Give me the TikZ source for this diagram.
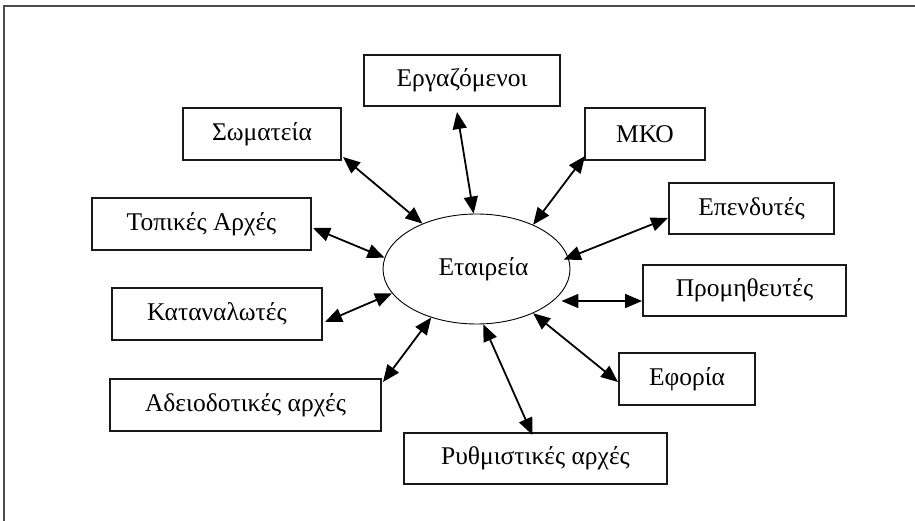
\documentclass[tikz,border=0pt]{standalone}
\usepackage{fontspec}
\setmainfont{Liberation Serif}
\usetikzlibrary{arrows.meta,shapes.geometric,calc}
\tikzset{
  box/.style={draw=black!90, line width=2pt, rectangle, inner sep=0pt, font=\fontsize{25.5}{28}\selectfont},
  ell/.style={draw, ellipse, line width=0.9pt, inner sep=0pt, minimum width=187pt, minimum height=110pt, font=\fontsize{25.5}{28}\selectfont},
  arr/.style={line width=1.8pt, {Triangle[length=17pt,width=14pt]}-{Triangle[length=17pt,width=14pt]}},
  frame/.style={line width=1.5pt, draw=black!70}
}
\begin{document}
\begin{tikzpicture}[x=1pt,y=-1pt]
\useasboundingbox (0,0) rectangle (915,521);
\coordinate (ftr) at (930,6);
\coordinate (ftl) at (4,6);
\coordinate (fbl) at (4,530);
\draw[frame] (ftr) -- (ftl) -- (fbl);

\node[ell] (ell) at (476.5,269) {\hspace*{14pt}Εταιρεία};

\node[box, minimum width=196pt, minimum height=51pt] (erg) at (462,80.5) {Εργαζόμενοι};
\node[box, minimum width=158pt, minimum height=52pt] (som) at (262,134) {Σωματεία};
\node[box, minimum width=219pt, minimum height=52pt] (topa) at (201.5,224) {Τοπικές Αρχές};
\node[box, minimum width=120pt, minimum height=52pt] (mko) at (645,134) {ΜΚΟ};
\node[box, minimum width=165pt, minimum height=51pt] (epe) at (751.5,208.5) {Επενδυτές};
\node[box, minimum width=210pt, minimum height=52pt] (kat) at (217,314) {Καταναλωτές};
\node[box, minimum width=271pt, minimum height=52pt] (ade) at (245.5,405) {Αδειοδοτικές αρχές};
\node[box, minimum width=263pt, minimum height=51pt] (ryth) at (535.5,458.5) {Ρυθμιστικές αρχές};
\node[box, minimum width=203pt, minimum height=51pt] (prom) at (744.5,290.5) {Προμηθευτές};
\node[box, minimum width=136pt, minimum height=52pt] (ef) at (687,379) {Εφορία};

\draw[arr] ([xshift=-5pt,yshift=-5pt]erg.south) -- (ell.93);
\draw[arr] ([xshift=1pt,yshift=5pt]mko.south west) -- (ell.38);
\draw[arr, shorten >=-5pt] ([yshift=-9.5pt]epe.west) -- (ell.7);
\draw[arr] ([xshift=1pt,yshift=4pt]som.south east) -- (ell.140);
\draw[arr] ([xshift=1pt,yshift=-4pt]topa.east) -- (ell.173);
\draw[arr] ([xshift=2pt,yshift=-8pt]kat.east) -- (ell.196);
\draw[arr] ([xshift=1pt,yshift=-4pt]ade.north east) -- (ell.227);
\draw[arr] ([xshift=-3pt,yshift=-3pt]ryth.north) -- (ell.277);
\draw[arr] ([yshift=-3pt]ef.west) -- (ell.322);
\draw[arr] ([yshift=-10.5pt]prom.west) -- ($(ell.east |- prom.west)+(-9,10.5)$);
\end{tikzpicture}
\end{document}
